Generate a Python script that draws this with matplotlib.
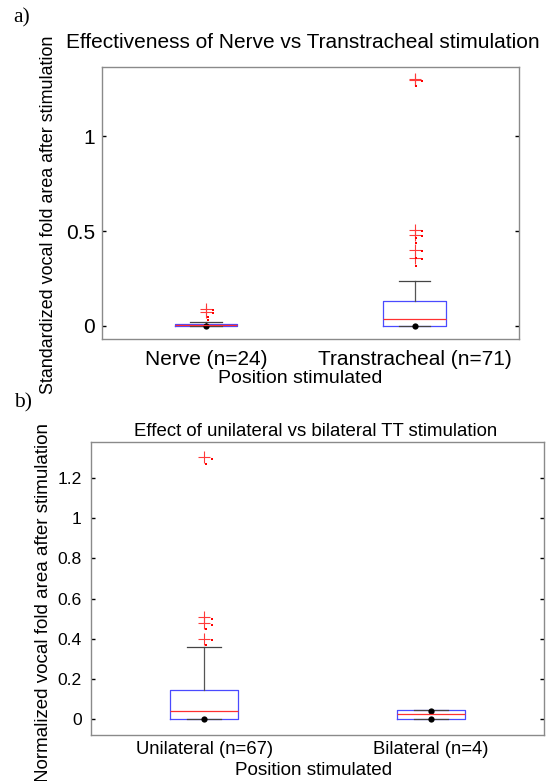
"""
Boxplots of vocal fold area after stimulation (two panels, MATLAB look).
"""

import matplotlib
matplotlib.use("Agg")
import matplotlib.pyplot as plt
import matplotlib.ticker as ticker

plt.rcParams["font.family"] = ["Liberation Sans", "DejaVu Sans"]

W, H = 551, 781

# ---------------------------------------------------------------------------
# Data
# ---------------------------------------------------------------------------

# a) nerve vs transtracheal
labels_a = ["Nerve (n=24)", "Transtracheal (n=71)"]
q1_a = [0.0, 0.0]
med_a = [0.004, 0.037]
q3_a = [0.009, 0.130]
whislo_a = [0.0, 0.0]
whishi_a = [0.020, 0.238]
fliers_a = [[0.090, 0.075], [1.305, 1.298, 0.506, 0.481, 0.401, 0.359]]
dots_right_a = [[0.086, 0.068], [1.290, 0.500, 0.475, 0.395, 0.352]]
dots_mid_a = [[0.048, 0.030], [1.264, 0.466, 0.440, 0.359, 0.317]]
points_a = [[0.0], [0.0]]
yticks_a = [0, 0.5, 1]

# b) unilateral vs bilateral
labels_b = ["Unilateral (n=67)", "Bilateral (n=4)"]
q1_b = [0.0, 0.0]
med_b = [0.040, 0.026]
q3_b = [0.147, 0.045]
whislo_b = [0.0, 0.0]
whishi_b = [0.358, 0.045]
fliers_b = [[1.301, 0.507, 0.477, 0.397], []]
dots_right_b = [[1.295, 0.500, 0.470, 0.392], []]
dots_mid_b = [[1.268, 0.447, 0.368], []]
points_b = [[0.0], [0.0, 0.043]]
yticks_b = [0, 0.2, 0.4, 0.6, 0.8, 1.0, 1.2]


def px_box(left, top, right, bottom):
    """Pixel box -> figure fraction rect."""
    return [left / W, 1 - bottom / H, (right - left) / W, (bottom - top) / H]


def draw_panel(ax, labels, q1, med, q3, lo, hi, fliers, dots_r, dots_m, pts,
               yticks, ylim, tick_fs, xtick_fs, xpad, ypad):
    stats = []
    for i in range(len(labels)):
        stats.append(dict(q1=q1[i], med=med[i], q3=q3[i], whislo=lo[i],
                          whishi=hi[i], fliers=fliers[i], label=labels[i]))
    pos = [1, 2]
    ax.bxp(stats, positions=pos, widths=0.3, showfliers=True,
           boxprops=dict(color="#4a4aff", lw=0.9),
           medianprops=dict(color="#ff3030", lw=0.9),
           whiskerprops=dict(color="#555555", lw=0.9, ls="-"),
           capprops=dict(color="#444444", lw=0.9), capwidths=0.15,
           flierprops=dict(marker="+", markersize=9, markeredgewidth=0.8,
                           markeredgecolor="#ff3a3a", linestyle="none"))
    for p, dr, dm, pt in zip(pos, dots_r, dots_m, pts):
        ax.plot([p + 0.035] * len(dr), dr, "s", color="red", ms=2, mew=0)
        ax.plot([p + 0.008] * len(dm), dm, "s", color="red", ms=2, mew=0)
        ax.plot([p] * len(pt), pt, "o", color="black", ms=4.5, mew=0)

    ax.set_xlim(0.5, 2.5)
    ax.set_ylim(*ylim)
    ax.set_yticks(yticks)
    ax.yaxis.set_major_formatter(ticker.FormatStrFormatter("%g"))
    ax.tick_params(axis="y", which="both", direction="in", length=3,
                   width=1, color="black", left=True, right=True,
                   labelsize=tick_fs, pad=ypad)
    ax.tick_params(axis="x", length=0, labelsize=xtick_fs, pad=xpad)
    for s in ax.spines.values():
        s.set_color("#8a8a8a")
        s.set_linewidth(1.0)


fig = plt.figure(figsize=(W / 100, H / 100), dpi=100)

# ---- panel a ----
ax_a = fig.add_axes(px_box(101.7, 66.7, 519, 339))
draw_panel(ax_a, labels_a, q1_a, med_a, q3_a, whislo_a, whishi_a, fliers_a,
           dots_right_a, dots_mid_a, points_a, yticks_a, (-0.069, 1.368),
           tick_fs=15, xtick_fs=15, xpad=8, ypad=4.8)
fig.text(303 / W, 1 - 42.7 / H,
         "Effectiveness of Nerve vs Transtracheal stimulation",
         ha="center", va="center", fontsize=15)
fig.text(49 / W, 1 - 215 / H, "Standardized vocal fold area after stimulation",
         rotation=90, ha="center", va="center", fontsize=12.9)
fig.text(300 / W, 1 - 378.3 / H, "Position stimulated",
         ha="center", va="center", fontsize=14)
fig.text(22 / W, 1 - 18.3 / H, "a)", ha="center", va="center",
         fontsize=15.5, family="Liberation Serif")

# ---- panel b ----
ax_b = fig.add_axes(px_box(90.7, 442, 544.3, 735))
draw_panel(ax_b, labels_b, q1_b, med_b, q3_b, whislo_b, whishi_b, fliers_b,
           dots_right_b, dots_mid_b, points_b, yticks_b, (-0.078, 1.378),
           tick_fs=12.6, xtick_fs=13.3, xpad=4.2, ypad=6.5)
fig.text(315.3 / W, 1 - 431.7 / H,
         "Effect of unilateral vs bilateral TT stimulation",
         ha="center", va="center", fontsize=13.4)
fig.text(43.5 / W, 1 - 423.5 / H, "Normalized vocal fold area after stimulation",
         rotation=90, ha="center", va="top", fontsize=13.5)
fig.text(314 / W, 1 - 770.5 / H, "Position stimulated",
         ha="center", va="center", fontsize=13.6)
fig.text(23 / W, 1 - 403 / H, "b)", ha="center", va="center",
         fontsize=15.5, family="Liberation Serif")

fig.savefig("out.png", dpi=100)
plt.close(fig)
